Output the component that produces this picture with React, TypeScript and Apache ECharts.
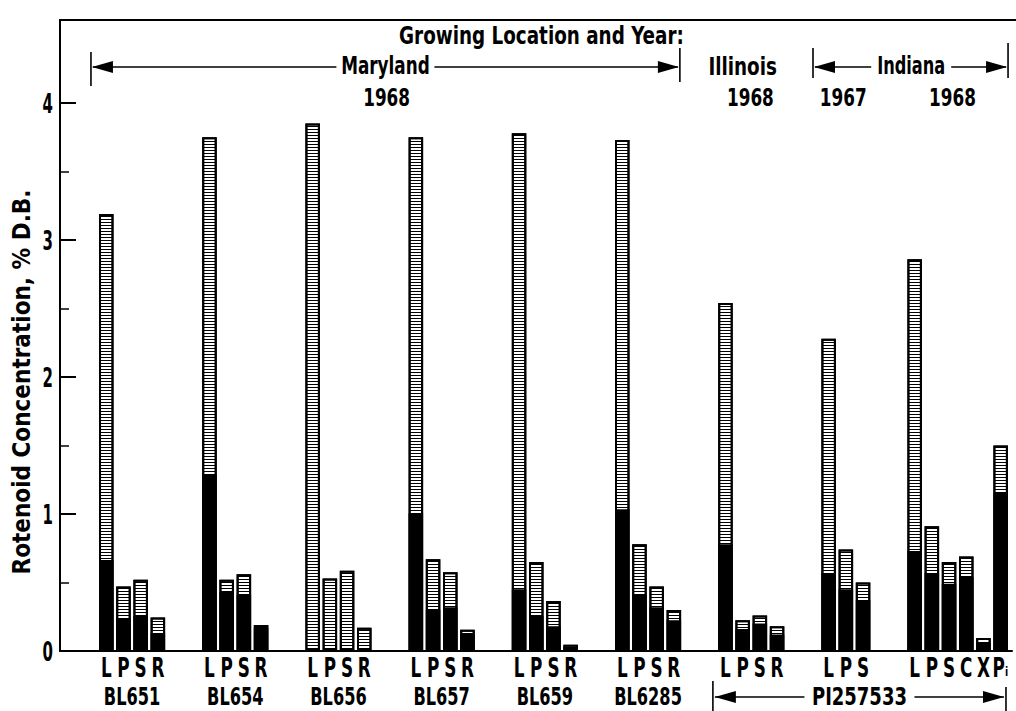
import React, { useEffect, useRef } from "react";
import * as echarts from "echarts";

// ---------- data ----------
const groupNames = ["BL651", "BL654", "BL656", "BL657", "BL659", "BL6285"];
const piName = "PI257533";

// bar letters per group (6 Maryland strains, Illinois 1968, Indiana 1967, Indiana 1968)
const groupLetters: string[][] = [
  ["L", "P", "S", "R"],
  ["L", "P", "S", "R"],
  ["L", "P", "S", "R"],
  ["L", "P", "S", "R"],
  ["L", "P", "S", "R"],
  ["L", "P", "S", "R"],
  ["L", "P", "S", "R"],
  ["L", "P", "S"],
  ["L", "P", "S", "C", "X", "Pi"],
];

// total rotenoid concentration (% D.B.) = top of each bar
const totalValues = [
  3.19, 0.47, 0.52, 0.245, // BL651
  3.75, 0.52, 0.56, 0.19, // BL654
  3.85, 0.53, 0.585, 0.17, // BL656
  3.75, 0.67, 0.575, 0.155, // BL657
  3.78, 0.65, 0.365, 0.045, // BL659
  3.73, 0.78, 0.47, 0.3, // BL6285
  2.54, 0.225, 0.26, 0.18, // Illinois 1968
  2.28, 0.74, 0.5, // Indiana 1967
  2.86, 0.91, 0.65, 0.69, 0.095, 1.5, // Indiana 1968
];

// solid black (lower) portion of each bar
const blackValues = [
  0.665, 0.24, 0.255, 0.13,
  1.29, 0.43, 0.41, 0.17,
  0, 0, 0, 0,
  1.005, 0.3, 0.32, 0.13,
  0.45, 0.255, 0.18, 0.03,
  1.035, 0.41, 0.32, 0.225,
  0.78, 0.16, 0.2, 0.12,
  0.57, 0.45, 0.37,
  0.73, 0.57, 0.49, 0.54, 0.06, 1.155,
];

const yTickLabels = [0, 1, 2, 3, 4];
const yMinorTicks = [0.5, 1.5, 2.5, 3.5];

// ---------- layout ----------
const W = 1016;
const H = 711;
const GRID = { left: 60, top: 20, right: 4, bottom: 60 };
const X_MIN = -2.69;
const X_MAX = 52.66;
const Y_MAX = 4.606;
const GROUP_GAP = 2;

const FONT = "'DejaVu Sans Condensed', 'DejaVu Sans', sans-serif";

// slot positions derived from the group structure
const slots: number[] = [];
const letters: string[] = [];
const groupStart: number[] = [];
{
  let s = 0;
  groupLetters.forEach((g) => {
    groupStart.push(s);
    g.forEach((l) => {
      slots.push(s);
      letters.push(l);
      s += 1;
    });
    s += GROUP_GAP;
  });
}
const nameCenters = groupNames.map((_, g) => groupStart[g] + (groupLetters[g].length - 1) / 2);

export default function App() {
  const ref = useRef<HTMLDivElement>(null);
  useEffect(() => {
    if (!ref.current) return;
    const chart = echarts.init(ref.current, null, { renderer: "svg" });
    chart.setOption({
      animation: false,
      backgroundColor: "#fff",
      textStyle: { fontFamily: FONT },
      grid: GRID,
      xAxis: {
        type: "value",
        min: X_MIN,
        max: X_MAX,
        axisLine: { show: true, onZero: false, lineStyle: { color: "#000", width: 2 } },
        axisTick: { show: false },
        splitLine: { show: false },
        axisLabel: { show: false },
      },
      yAxis: [
        {
          type: "value",
          min: 0,
          max: Y_MAX,
          interval: 1,
          axisLine: { show: true, onZero: false, lineStyle: { color: "#000", width: 2 } },
          axisTick: { show: true, inside: true, length: 16, lineStyle: { color: "#000", width: 2 }, customValues: yTickLabels },
          splitLine: { show: false },
          axisLabel: { show: false },
        },
        {
          type: "value",
          min: 0,
          max: Y_MAX,
          position: "left",
          axisLine: { show: false, onZero: false },
          axisTick: { show: true, inside: true, length: 9, lineStyle: { color: "#000", width: 1.5 }, customValues: yMinorTicks },
          axisLabel: { show: false },
          splitLine: { show: false },
        },
      ],
      series: [
        {
          type: "bar",
          name: "total",
          xAxisIndex: 0,
          yAxisIndex: 0,
          barWidth: 14.5,
          barGap: "-100%",
          data: slots.map((s, i) => [s, totalValues[i]]),
          itemStyle: {
            color: "#fff",
            borderColor: "#000",
            borderWidth: 2,
            decal: {
              symbol: "rect",
              symbolSize: 1,
              dashArrayX: [1, 0],
              dashArrayY: [1, 2],
              rotation: 0,
              color: "#000",
            },
          },
        },
        {
          type: "bar",
          name: "black",
          xAxisIndex: 0,
          yAxisIndex: 0,
          barWidth: 14.5,
          barGap: "-100%",
          data: slots.map((s, i) => [s, blackValues[i]]),
          itemStyle: { color: "#000", borderColor: "#000", borderWidth: 2 },
        },
      ],
    });

    const px = (s: number) => chart.convertToPixel({ xAxisIndex: 0 }, s) as number;
    const py = (v: number) => chart.convertToPixel({ yAxisIndex: 0 }, v) as number;
    const g: any[] = [];
    const line = (x1: number, y1: number, x2: number, y2: number, w = 1.6) =>
      g.push({ type: "line", silent: true, shape: { x1, y1, x2, y2 }, style: { stroke: "#000", lineWidth: w } });
    const head = (tipX: number, y: number, dir: number) =>
      g.push({
        type: "polygon",
        silent: true,
        shape: { points: [[tipX, y], [tipX + dir * 21, y - 6], [tipX + dir * 21, y + 6]] },
        style: { fill: "#000" },
      });
    const text = (
      t: string,
      x: number,
      y: number,
      opts: { size?: number; sx?: number; align?: string; rotation?: number; weight?: string } = {}
    ) =>
      g.push({
        type: "text",
        silent: true,
        x,
        y,
        rotation: opts.rotation ?? 0,
        scaleX: opts.sx ?? 1,
        style: {
          text: t,
          fontFamily: FONT,
          fontSize: opts.size ?? 24,
          fontWeight: opts.weight ?? "bold",
          fill: "#000",
          align: opts.align ?? "center",
          verticalAlign: "middle",
        },
      });
    const span = (sL: number, sR: number, y: number, label: string, halfW: number, bars: number[], labelS?: number, sx = 0.78) => {
      const xl = px(sL);
      const xr = px(sR);
      const xc = labelS !== undefined ? px(labelS) : (xl + xr) / 2;
      line(xl, bars[0], xl, bars[1], 1.6);
      line(xr, bars[2], xr, bars[3], 1.6);
      line(xl + 2, y, xc - halfW, y);
      line(xc + halfW, y, xr - 2, y);
      head(xl + 1, y, 1);
      head(xr - 1, y, -1);
      if (label) text(label, xc, y - 1, { sx });
    };

    // top frame line
    line(GRID.left - 1, GRID.top, W, GRID.top, 2);

    // y tick labels
    yTickLabels.forEach((v) => text(String(v), 53, py(v) + 1, { size: 26, sx: 0.64, align: "right" }));

    // bar letters
    slots.forEach((s, i) => {
      const l = letters[i];
      if (l === "Pi") {
        text("P", px(s) - 2, 668, { size: 26, sx: 0.72 });
        text("i", px(s) + 6, 672, { size: 13, sx: 0.8 });
      } else {
        text(l, px(s), 668, { size: 26, sx: 0.72 });
      }
    });

    // strain names
    nameCenters.forEach((c, i) => text(groupNames[i], px(c), 696, { size: 25, sx: 0.72 }));

    // top annotations
    text("Growing Location and Year:", px(25.3), 35, { size: 24, sx: 0.85 });
    span(-0.89, 33.35, 67, "Maryland", 49, [52, 86, 48, 82]);
    text("1968", px(16.3), 98, { sx: 0.78 });
    text("Illinois", px(37.0), 66, { sx: 0.85 });
    text("1968", px(37.45), 98, { sx: 0.78 });
    span(41.09, 52.43, 67, "Indiana", 40, [48, 78, 43, 78], 46.8, 0.75);
    text("1967", px(42.85), 98, { sx: 0.78 });
    text("1968", px(49.2), 98, { sx: 0.78 });

    // bottom PI257533 span
    {
      const xl = px(35.27);
      const xr = px(52.31);
      const xc = px(43.79);
      const y = 697;
      line(xl, 681, xl, 711, 1.6);
      line(xr, 687, xr, 711, 1.6);
      line(xl + 2, y, xc - 55, y);
      line(xc + 55, y, xr - 2, y);
      head(xl + 2, y, 1);
      head(xr - 2, y, -1);
      text(piName, xc, 696, { size: 25, sx: 0.8 });
    }

    // y-axis title
    text("Rotenoid Concentration, % D.B.", 22, 382, { size: 24, sx: 1, rotation: Math.PI / 2 });

    chart.setOption({ graphic: g });
    return () => chart.dispose();
  }, []);
  return <div ref={ref} style={{ position: "absolute", left: 0, top: 0, width: W, height: H, background: "#fff" }} />;
}
